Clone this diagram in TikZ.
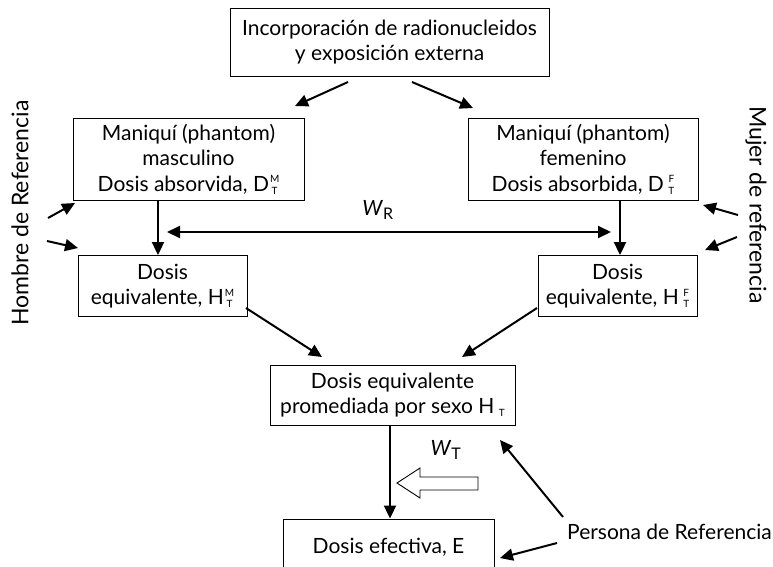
\documentclass[tikz,border=0pt]{standalone}
\usepackage{fontspec}
\setmainfont{Lato}
\usetikzlibrary{arrows.meta}
\newcommand{\supsubx}[2]{\kern1pt\raisebox{-3pt}{\fontsize{10}{10}\selectfont\shortstack{#1\\[1pt]#2}}}
\tikzset{
  box/.style={draw, line width=0.9pt, align=center, inner sep=0pt, font=\fontsize{21}{25.5}\selectfont},
  arr/.style={line width=2pt, -{Triangle[length=13pt,width=12pt]}},
  lbl/.style={font=\fontsize{21}{25.5}\selectfont, inner sep=0pt},
  sidelbl/.style={font=\fontsize{23}{26}\selectfont, inner sep=0pt}
}
\begin{document}
\begin{tikzpicture}[x=1pt,y=-1pt]
\clip (0,0) rectangle (773,566);
\useasboundingbox (0,0) rectangle (773,566);
% boxes
\node[box, minimum width=319pt, minimum height=68pt] (top) at (389.5,42) {Incorporación de radionucleidos\\y exposición externa};
\node[box, minimum width=231pt, minimum height=82pt] (lp) at (188.5,159) {Maniquí (phantom)\\masculino\\Dosis absorvida, D\supsubx{M}{T}};
\node[box, minimum width=230pt, minimum height=82pt] (rp) at (583,159) {Maniquí (phantom)\\femenino\\Dosis absorbida, D\,\supsubx{F}{T}};
\node[box, minimum width=169pt, minimum height=61pt] (ld) at (162.5,286) {Dosis\\equivalente, H\supsubx{M}{T}};
\node[box, minimum width=159pt, minimum height=61pt] (rd) at (617.5,286) {Dosis\\equivalente, H\,\supsubx{F}{T}};
\node[box, minimum width=245pt, minimum height=60pt] (cd) at (392.5,395) {Dosis equivalente\\promediada por sexo H\,\supsubx{\strut}{T}};
\node[box, minimum width=211pt, minimum height=70pt, text depth=0pt] (ef) at (388.5,554) {};
\node[lbl] at (388.5,547) {Dosis efectiva, E};
% side labels
\node[sidelbl, rotate=90] (hom) at (20,213) {Hombre de Referencia};
\node[sidelbl, rotate=-90] (muj) at (756,205) {Mujer de referencia};
\node[lbl, anchor=west] (per) at (567,532) {Persona de Referencia};
% coordinates
\coordinate (vl) at (158,0);
\coordinate (vr) at (620,0);
\coordinate (vc) at (390,0);
\coordinate (wl) at (167,232);
\coordinate (wr) at (611,232);
\coordinate (t1) at (348,82);
\coordinate (t2) at (412,82);
\coordinate (h1) at (48,218);
\coordinate (h2) at (47,241);
\coordinate (m1) at (738,215);
\coordinate (m2) at (737,237);
\coordinate (l1) at (246,308);
\coordinate (r1) at (537,308);
\coordinate (p1) at (563,517);
\coordinate (p2) at (557,543);
% arrows
\draw[arr] (t1) -- (295,106);
\draw[arr] (t2) -- (473,108);
\draw[arr] (lp.south -| vl) -- (ld.north -| vl);
\draw[arr] (rp.south -| vr) -- (rd.north -| vr);
\draw[line width=2pt, {Triangle[length=13pt,width=12pt]}-{Triangle[length=13pt,width=12pt]}] (wl) -- (wr);
\node[lbl] (wrl) at (378,210) {\textit{W}$_{\hbox{\fontsize{16}{16}\selectfont R}}$};
\draw[arr] (h1) -- (75,203);
\draw[arr] (h2) -- (78,248);
\draw[arr] (m1) -- (703,205);
\draw[arr] (m2) -- (705,250);
\draw[arr] (l1) -- (322,357);
\draw[arr] (r1) -- (462,357);
\draw[arr] (cd.south -| vc) -- (ef.north -| vc);
\node[lbl] (wtl) at (446,450) {\textit{W}$_{\hbox{\fontsize{16}{16}\selectfont T}}$};
\draw[line width=0.9pt] (397,483) -- (420,468) -- (420,477) -- (478,477) -- (478,490) -- (420,490) -- (420,498) -- cycle;
\draw[arr] (p1) -- (500,440);
\draw[arr] (p2) -- (500,558);
\end{tikzpicture}
\end{document}
